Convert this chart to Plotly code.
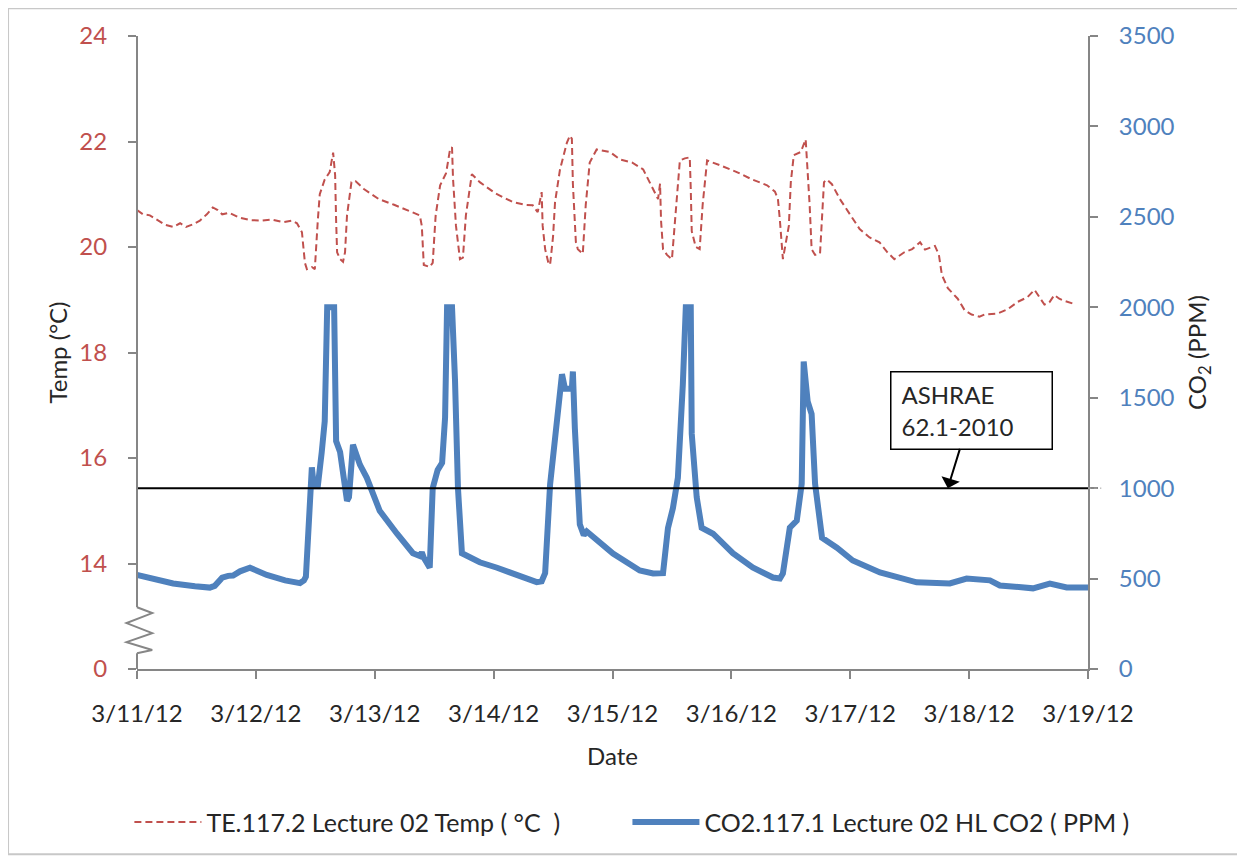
import pandas as pd
import plotly.graph_objects as go

# ---------------- data (hours after 3/11/12 00:00) ----------------
co2_hours = [0, 2.6, 7.3, 11.7, 14.7, 15.7, 17.2, 18.4, 19.4, 20.8, 22.8, 26.2, 29.9, 32.9,
             33.7, 34.1, 34.9, 35.3, 35.7, 36.5, 37.3, 37.9, 38.4, 39.8, 40.2, 41.0, 42.4,
             42.8, 43.6, 45.0, 46.4, 49.0, 52.5, 55.7, 57.1, 57.5, 57.9, 59.1, 59.7, 60.7,
             61.6, 62.2, 62.6, 63.6, 64.2, 64.8, 65.6, 67.2, 67.8, 69.2, 72.7, 77.3, 80.7,
             81.7, 82.4, 83.4, 84.8, 85.8, 86.4, 87.8, 88.0, 88.4, 89.4, 90.2, 90.8, 91.4,
             96.1, 101.5, 104.2, 106.2, 107.2, 108.2, 109.2, 110.2, 110.8, 111.8, 112.0,
             113.0, 114.0, 116.3, 120.3, 124.3, 128.4, 129.8, 130.4, 131.8, 133.2, 134.2,
             134.6, 135.4, 136.2, 136.9, 138.3, 141.3, 144.5, 150.0, 157.4, 164.1, 167.5,
             172.2, 174.2, 180.9, 184.3, 187.7, 192.0]
co2_ppm = [520, 505, 473, 458, 450, 460, 505, 515, 517, 540, 560, 520, 490, 475,
           490, 510, 1020, 1115, 1010, 1010, 1200, 1370, 2000, 2000, 1260, 1200, 930,
           950, 1240, 1130, 1057, 875, 748, 640, 625, 645, 615, 560, 1000, 1100,
           1140, 1390, 2000, 2000, 1600, 1000, 640, 620, 615, 590, 560, 515, 480,
           485, 530, 1020, 1390, 1630, 1550, 1550, 1645, 1330, 800, 740, 760, 745,
           638, 545, 528, 530, 780, 890, 1057, 1574, 2000, 2000, 1300,
           950, 781, 748, 640, 561, 506, 500, 528, 781, 820, 1024,
           1700, 1480, 1410, 1024, 726, 671, 600, 534, 479, 473, 500,
           490, 462, 446, 472, 451, 450]

temp_hours = [0.0, 1.2, 2.6, 4.2, 5.7, 7.3, 8.7, 9.9, 11.3, 12.7, 14.1, 15.3, 16.3, 17.2,
              18.6, 20.6, 22.8, 25.2, 27.2, 29.5, 31.3, 32.3, 33.3, 33.9, 34.3, 35.3, 35.9,
              36.5, 36.9, 37.9, 38.9, 39.6, 40.0, 40.2, 40.4, 41.0, 41.6, 42.0, 42.4, 43.3,
              44.1, 45.8, 48.8, 51.9, 55.7, 57.1, 57.5, 57.9, 59.1, 59.7, 60.3, 61.2, 62.4,
              63.2, 63.6, 63.8, 64.4, 65.2, 65.8, 66.4, 67.6, 69.2, 72.3, 75.9, 78.3, 79.9,
              80.9, 81.7, 81.9, 82.4, 83.0, 83.4, 84.0, 84.4, 85.4, 86.8, 87.4, 87.8, 88.0,
              88.6, 89.0, 90.0, 90.6, 91.4, 92.8, 95.5, 97.5, 100.0, 102.2, 104.2, 105.2,
              105.6, 105.8, 106.2, 107.0, 108.0, 108.6, 109.0, 109.6, 110.6, 111.6, 111.8,
              112.0, 112.8, 113.6, 114.2, 115.1, 117.7, 121.1, 124.2, 127.2, 128.8, 129.4,
              129.8, 130.2, 130.4, 131.6, 132.0, 132.6, 134.0, 135.0, 135.4, 135.8, 136.2,
              136.9, 137.9, 138.3, 138.7, 139.3, 140.3, 141.9, 143.9, 145.9, 147.9, 149.9,
              151.5, 152.9, 154.9, 156.5, 158.1, 159.1, 161.1, 161.9, 162.5, 163.7, 165.7,
              167.1, 168.5, 170.1, 171.1, 173.8, 175.8, 177.8, 179.8, 181.2, 182.4, 183.2,
              184.2, 185.2, 186.2, 187.2, 189.2, 191.2, 192.0]
temp_c = [20.70, 20.62, 20.60, 20.50, 20.42, 20.38, 20.45, 20.38, 20.43, 20.50, 20.62, 20.75,
          20.70, 20.62, 20.65, 20.56, 20.51, 20.50, 20.52, 20.47, 20.50, 20.45, 20.28, 19.70,
          19.58, 19.62, 19.58, 20.50, 21.00, 21.28, 21.42, 21.79, 21.36, 20.50, 19.90, 19.77,
          19.72, 19.90, 20.60, 21.23, 21.25, 21.10, 20.91, 20.80, 20.66, 20.60, 20.40, 19.66,
          19.62, 19.70, 20.60, 21.17, 21.40, 21.85, 21.89, 21.30, 20.40, 19.77, 19.80, 20.60,
          21.38, 21.23, 21.02, 20.85, 20.80, 20.79, 20.66, 21.04, 20.40, 19.96, 19.72, 19.66,
          20.20, 20.85, 21.47, 21.98, 22.11, 22.05, 21.20, 20.10, 19.96, 19.87, 20.80, 21.60,
          21.85, 21.80, 21.66, 21.60, 21.47, 21.09, 20.91, 21.20, 20.50, 19.96, 19.85, 19.77,
          20.50, 21.09, 21.64, 21.68, 21.70, 21.10, 20.30, 20.00, 19.96, 20.80, 21.64, 21.55,
          21.42, 21.28, 21.17, 21.05, 20.91, 20.50, 19.96, 19.77, 20.40, 21.23, 21.74, 21.80,
          22.04, 21.50, 20.80, 19.96, 19.85, 19.88, 20.60, 21.23, 21.28, 21.19, 20.91, 20.62,
          20.34, 20.18, 20.09, 19.90, 19.77, 19.90, 19.96, 20.09, 19.95, 20.02, 19.85, 19.47,
          19.22, 19.02, 18.80, 18.72, 18.68, 18.72, 18.74, 18.82, 18.96, 19.05, 19.19, 19.02,
          18.91, 18.95, 19.09, 19.02, 18.98, 18.92]

day_ticks = ["2012-03-11", "2012-03-12", "2012-03-13", "2012-03-14", "2012-03-15",
             "2012-03-16", "2012-03-17", "2012-03-18", "2012-03-19"]
temp_tickvals = [12, 14, 16, 18, 20, 22, 24]
temp_ticktext = ["0", "14", "16", "18", "20", "22", "24"]
co2_limit = 1000
temp_name = "TE.117.2 Lecture 02 Temp ( \u00b0C  )"
co2_name = "CO2.117.1 Lecture 02 HL CO2 ( PPM )"

# ---------------- build ----------------
t0 = pd.Timestamp("2012-03-11")
co2_x = t0 + pd.to_timedelta(co2_hours, unit="h")
temp_x = t0 + pd.to_timedelta(temp_hours, unit="h")

RED = "#C0504D"
BLUE = "#4F81BD"
GREY = "#868686"
FONT = "Lato"

fig = go.Figure()
fig.add_trace(go.Scatter(x=temp_x, y=temp_c, name=temp_name, mode="lines",
                         line=dict(color=RED, width=2, dash="7px,4px"), yaxis="y",
                         legend="legend"))
fig.add_trace(go.Scatter(x=co2_x, y=co2_ppm, name=co2_name, mode="lines",
                         line=dict(color=BLUE, width=6), yaxis="y2", legend="legend2"))

shapes = []
# outer chart border
shapes.append(dict(type="rect", xref="paper", yref="paper", x0=-0.1356, x1=1.1609,
                   y0=-0.2925, y1=1.044, line=dict(color="#C8C8C8", width=2)))
# ASHRAE limit line
shapes.append(dict(type="line", xref="paper", yref="y2", x0=0, x1=1, y0=co2_limit, y1=co2_limit,
                   line=dict(color="black", width=2)))
shapes.append(dict(type="line", xref="paper", yref="y2", x0=1, x1=1.014, y0=co2_limit, y1=co2_limit,
                   line=dict(color="#A0A0A0", width=1, dash="dot")))
# left axis with break
shapes.append(dict(type="line", xref="paper", yref="y", x0=0, x1=0, y0=13.17, y1=24,
                   line=dict(color=GREY, width=2)))
shapes.append(dict(type="line", xref="paper", yref="y", x0=0, x1=0, y0=12, y1=12.30,
                   line=dict(color=GREY, width=2)))
zig = [(0, 13.17), (0.016, 13.06), (-0.011, 12.87), (0.016, 12.68), (-0.011, 12.51),
       (0.016, 12.36), (0, 12.30)]
path = "M " + " L ".join(f"{a},{b}" for a, b in zig)
shapes.append(dict(type="path", xref="paper", yref="y", path=path,
                   line=dict(color=GREY, width=2)))

legend_common = dict(orientation="h", yanchor="middle", y=-0.242, xanchor="left",
                     font=dict(size=25, color="#262626"), itemwidth=67,
                     bgcolor="rgba(0,0,0,0)")

fig.update_layout(
    width=1245, height=862,
    margin=dict(l=129, r=165, t=25, b=201),
    paper_bgcolor="white", plot_bgcolor="white",
    font=dict(family=FONT, size=24, color="#262626"),
    showlegend=True,
    legend=dict(x=-0.008, **legend_common),
    legend2=dict(x=0.5157, **legend_common),
    xaxis=dict(range=[day_ticks[0], day_ticks[-1]], tickvals=day_ticks, tickformat="%-m/%-d/%y",
               showline=True, linecolor=GREY, linewidth=2, ticks="outside", ticklen=8,
               tickwidth=1.5, tickcolor=GREY, showgrid=False, zeroline=False,
               tickfont=dict(size=24, color="#262626"), ticklabelstandoff=14,
               title=dict(text="Date", standoff=22, font=dict(size=24, color="#262626"))),
    yaxis=dict(range=[12, 24], tickvals=temp_tickvals, ticktext=temp_ticktext,
               showline=False, ticks="outside", ticklen=8, tickwidth=1.5, tickcolor=GREY,
               showgrid=False, zeroline=False, tickfont=dict(size=24, color=RED),
               ticklabelstandoff=16,
               title=dict(text="Temp (\u00b0C)", standoff=4, font=dict(size=24, color="#262626"))),
    yaxis2=dict(range=[0, 3500], dtick=500, overlaying="y", side="right",
                showline=True, linecolor=GREY, linewidth=2, ticks="outside", ticklen=8,
                tickwidth=1.5, tickcolor=GREY, showgrid=False, zeroline=False,
                tickfont=dict(size=24, color=BLUE), ticklabelstandoff=16,
                title=dict(text="CO<sub>2</sub> (PPM)", standoff=16,
                           font=dict(size=24, color="#262626"))),
    shapes=shapes,
    annotations=[dict(x=t0 + pd.Timedelta(hours=163.7), y=co2_limit, xref="x", yref="y2",
                      text="ASHRAE<br>62.1-2010", align="left", showarrow=True,
                      ax=24, ay=-78, arrowhead=1, arrowsize=1.6, arrowwidth=2,
                      arrowcolor="black", bordercolor="black", borderwidth=1.5,
                      borderpad=10, bgcolor="white", width=140, height=56,
                      font=dict(size=24, color="#262626"))],
)

fig.write_html("out.html")
